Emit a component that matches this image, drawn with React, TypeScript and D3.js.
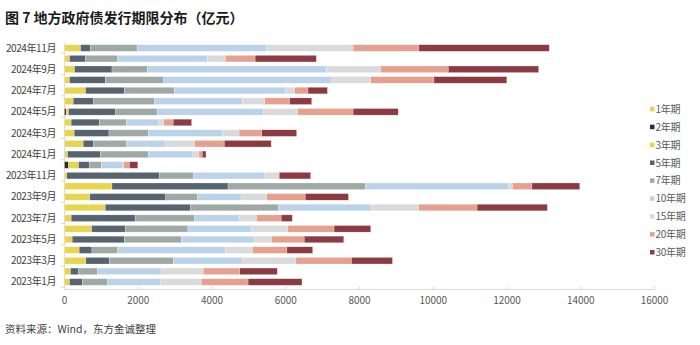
import React from "react";
import * as d3 from "d3";

const categories = [
  "2024年11月", "2024年10月", "2024年9月", "2024年8月", "2024年7月", "2024年6月",
  "2024年5月", "2024年4月", "2024年3月", "2024年2月", "2024年1月", "2023年12月",
  "2023年11月", "2023年10月", "2023年9月", "2023年8月", "2023年7月", "2023年6月",
  "2023年5月", "2023年4月", "2023年3月", "2023年2月", "2023年1月",
];
const seriesNames = ["1年期", "2年期", "3年期", "5年期", "7年期", "10年期", "15年期", "20年期", "30年期"];
const seriesColors = ["#E9D44F", "#3A2625", "#E9D44F", "#55646E", "#9EA9A5", "#BAD3EA", "#DADADA", "#E5A08E", "#8C3B42"];

const y1 = [0, 0, 0, 0, 0, 0, 0, 0, 0, 0, 0, 0, 0, 0, 0, 0, 0, 0, 0, 0, 0, 0, 0];
const y2 = [0, 0, 0, 0, 0, 0, 45, 0, 0, 0, 0, 109, 0, 0, 0, 0, 0, 0, 0, 0, 0, 0, 0];
const y3 = [435, 136, 272, 136, 571, 236, 64, 181, 263, 508, 82, 272, 63, 1288, 689, 1107, 181, 735, 209, 399, 580, 163, 136];
const y5 = [272, 426, 1016, 971, 1053, 553, 1279, 762, 943, 281, 888, 290, 2504, 3147, 2059, 2312, 1733, 916, 1415, 345, 635, 218, 345];
const y7 = [1261, 880, 961, 1587, 1360, 1651, 1124, 735, 1071, 898, 1307, 327, 934, 3725, 862, 2377, 1614, 1696, 1541, 698, 1742, 517, 680];
const y10 = [3519, 2431, 4853, 4562, 3020, 2394, 2876, 862, 2004, 1043, 1206, 589, 1914, 3872, 1179, 2527, 1207, 1714, 1978, 2921, 1859, 1741, 1433];
const y15 = [2340, 490, 1466, 1049, 236, 599, 934, 154, 454, 798, 163, 20, 390, 117, 698, 1279, 471, 998, 471, 734, 1460, 1125, 1116];
const y20 = [1784, 807, 1841, 1714, 363, 671, 1505, 254, 616, 807, 91, 154, 18, 526, 1043, 1587, 671, 1251, 889, 935, 1506, 989, 1269];
const y30 = [3536, 1660, 2448, 1976, 526, 599, 1222, 499, 944, 1270, 100, 227, 852, 1297, 1170, 1904, 300, 995, 1070, 698, 1112, 1016, 1461];

const xTicks = [0, 2000, 4000, 6000, 8000, 10000, 12000, 14000, 16000];

export default function App() {
  const W = 700, H = 345;
  const series = [y1, y2, y3, y5, y7, y10, y15, y20, y30];
  const rows = categories.map((c, i) => {
    const o: any = { cat: c };
    seriesNames.forEach((s, k) => (o[s] = series[k][i]));
    return o;
  });
  const stack = d3.stack<any>().keys(seriesNames)(rows);
  const x = d3.scaleLinear().domain([0, 16000]).range([64.5, 654.5]);
  const y = d3.scaleBand().domain(categories).range([42.7, 287.3]).paddingInner(0.38).paddingOuter(0.19);
  const axisY = 289.5;
  const font = "'Noto Sans CJK SC', 'Noto Sans', sans-serif";
  const step = y.step();

  return (
    <svg width={W} height={H} style={{ display: "block", position: "absolute", left: 0, top: 0 }} fontFamily={font}>
      <rect width={W} height={H} fill="#fff" />
      <text x={5} y={23} fontSize={14} fontWeight="bold" fill="#1a1a1a">图 7  地方政府债发行期限分布（亿元）</text>

      {/* y axis line */}
      <line x1={64.5} x2={64.5} y1={42.7} y2={axisY} stroke="#d9d9d9" />
      {categories.map((c, i) =>
        i % 2 === 0 ? (
          <line key={"yt" + i} x1={61} x2={64.5} y1={(y(c) as number) - step * 0.19 + step} y2={(y(c) as number) - step * 0.19 + step} stroke="#d9d9d9" />
        ) : null
      )}

      {stack.map((s, k) => (
        <g key={s.key} fill={seriesColors[k]}>
          {s.map((d, i) =>
            d[1] - d[0] > 0 ? (
              <rect key={i} x={x(d[0])} y={y(categories[i])} width={x(d[1]) - x(d[0])} height={y.bandwidth()} stroke="#ffffff" strokeWidth={0.4} strokeOpacity={0.6} />
            ) : null
          )}
        </g>
      ))}

      {categories.map((c, i) =>
        i % 2 === 0 ? (
          <text key={"yl" + i} x={56} y={(y(c) as number) + y.bandwidth() / 2} dy="0.35em" textAnchor="end" fontSize={10} fill="#404040" letterSpacing={-0.4}>{c}</text>
        ) : null
      )}

      {/* x axis */}
      <line x1={64.5} x2={654.5} y1={axisY} y2={axisY} stroke="#d9d9d9" />
      {xTicks.map((t) => (
        <g key={t}>
          <line x1={x(t)} x2={x(t)} y1={axisY - 3} y2={axisY} stroke="#d9d9d9" />
          <text x={x(t)} y={axisY + 14} textAnchor="middle" fontSize={10} fill="#595959">{t}</text>
        </g>
      ))}

      {seriesNames.map((s, k) => (
        <g key={"lg" + s} transform={`translate(650, ${109.3 + k * 17.9})`}>
          <rect x={0} y={-2.5} width={4.5} height={4.5} fill={seriesColors[k]} />
          <text x={5.5} y={0} dy="0.35em" fontSize={10} fill="#595959" letterSpacing={-0.3}>{s}</text>
        </g>
      ))}

      <text x={5} y={333} fontSize={10.5} fill="#404040">资料来源：Wind，东方金诚整理</text>
    </svg>
  );
}
